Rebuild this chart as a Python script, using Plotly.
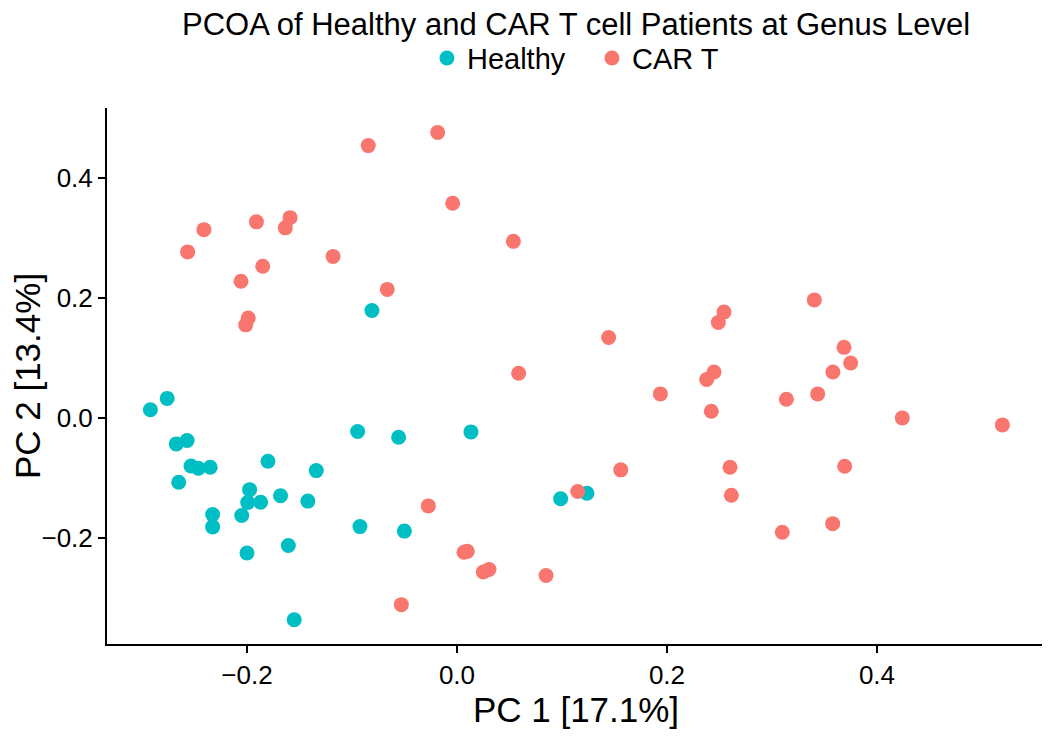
import plotly.graph_objects as go

healthy_pc1 = [-0.292, -0.276, -0.2673, -0.257, -0.2533, -0.2463, -0.235, -0.265, -0.180, -0.134,
               -0.1975, -0.1993, -0.187, -0.168, -0.142, -0.2327, -0.2327, -0.205, -0.200, -0.1606,
               -0.155, -0.0946, -0.0556, -0.0924, -0.0501, 0.0133, 0.0987, 0.1238, -0.081]
healthy_pc2 = [0.014, 0.033, -0.0428, -0.037, -0.0795, -0.0833, -0.0817, -0.1067, -0.0717, -0.0872,
               -0.119, -0.1405, -0.140, -0.129, -0.138, -0.1605, -0.181, -0.162, -0.2245, -0.212,
               -0.3355, -0.022, -0.0317, -0.1805, -0.188, -0.0228, -0.134, -0.125, 0.1795]

cart_pc1 = [-0.0845, -0.0184, -0.0041, -0.241, -0.2565, -0.191, -0.159, -0.1635, -0.118, -0.185,
            -0.2057, -0.0664, -0.1988, -0.2012, 0.0537, 0.1444, 0.0587, 0.156, 0.115, -0.0273,
            0.0067, 0.0098, 0.025, 0.0305, 0.0848, -0.053, 0.3403, 0.2543, 0.2489, 0.3686,
            0.3749, 0.358, 0.2448, 0.2378, 0.1937, 0.3137, 0.3435, 0.2422, 0.4241, 0.5194,
            0.260, 0.3692, 0.2613, 0.3578, 0.3098]
cart_pc2 = [0.454, 0.476, 0.358, 0.314, 0.277, 0.327, 0.334, 0.317, 0.2695, 0.253,
            0.228, 0.2145, 0.167, 0.1555, 0.2945, 0.1345, 0.075, -0.086, -0.122, -0.146,
            -0.2233, -0.2217, -0.256, -0.252, -0.262, -0.3105, 0.197, 0.177, 0.1595, 0.118,
            0.092, 0.077, 0.077, 0.0645, 0.0405, 0.0317, 0.0405, 0.0117, 0.0005, -0.0111,
            -0.0817, -0.080, -0.1283, -0.1756, -0.190]

tick_vals = [-0.2, 0.0, 0.2, 0.4]
tick_text = ["\u22120.2", "0.0", "0.2", "0.4"]

FONT = "Liberation Sans, Arial, sans-serif"

fig = go.Figure()
fig.add_trace(go.Scatter(x=healthy_pc1, y=healthy_pc2, mode="markers", name="Healthy",
                         marker=dict(color="#00BFC4", size=15, line=dict(width=0))))
fig.add_trace(go.Scatter(x=cart_pc1, y=cart_pc2, mode="markers", name="CAR T",
                         marker=dict(color="#F8766D", size=15, line=dict(width=0))))

axis_common = dict(showgrid=False, zeroline=False, showline=True, linecolor="black", linewidth=2,
                   ticks="outside", ticklen=7, tickwidth=2, tickcolor="black",
                   tickfont=dict(size=26, color="black", family=FONT),
                   tickvals=tick_vals, ticktext=tick_text, mirror=False, automargin=False)

fig.update_layout(
    width=1050, height=740,
    paper_bgcolor="white", plot_bgcolor="white",
    margin=dict(l=99, r=13, t=100, b=104),
    font=dict(family=FONT, color="black"),
    title=dict(text="PCOA of Healthy and CAR T cell Patients at Genus Level",
               x=0.5, xref="paper", xanchor="center", y=1 - 16 / 740, yanchor="middle",
               font=dict(size=31, color="black", family=FONT)),
    legend=dict(orientation="h", x=0.517, xanchor="center", y=1.093, yanchor="middle",
                font=dict(size=29, color="black", family=FONT), itemsizing="trace",
                entrywidth=120, bgcolor="rgba(0,0,0,0)"),
    xaxis=dict(range=[-0.3333, 0.56], title=dict(text="PC 1 [17.1%]", font=dict(size=35, color="black"), standoff=6),
               **axis_common),
    yaxis=dict(range=[-0.376, 0.5166], title=dict(text="PC 2 [13.4%]", font=dict(size=35, color="black"), standoff=0),
               **axis_common),
)

fig.write_html("out.html")
